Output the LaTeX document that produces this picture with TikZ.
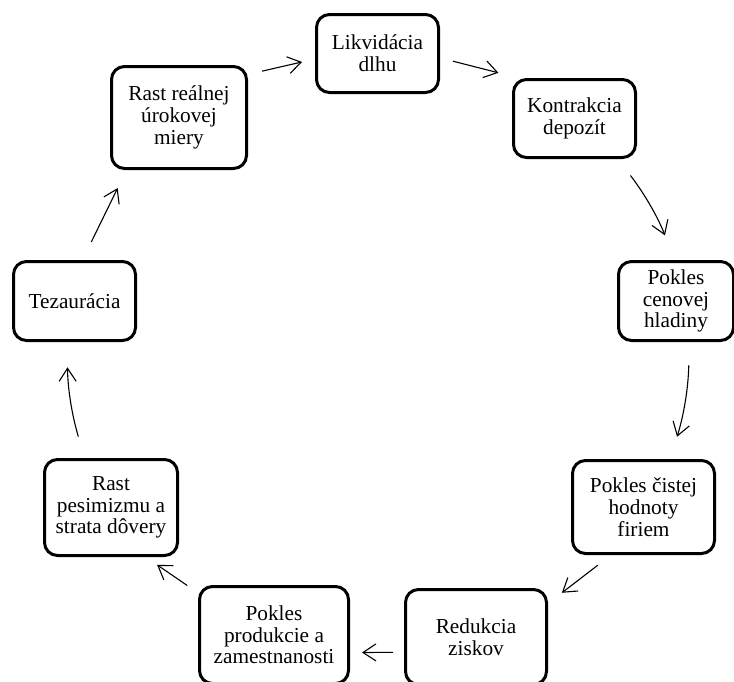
\documentclass[tikz,border=0pt]{standalone}
\usepackage{fontspec}
\setmainfont{Liberation Serif}
\usetikzlibrary{arrows.meta,positioning}

\tikzset{
  stage/.style={draw, line width=3pt, rounded corners=13pt, align=center,
    inner sep=2pt, font=\fontsize{21.3}{21.7}\selectfont},
  flow/.style={line width=1.1pt, -{Straight Barb[length=13pt,width=17pt]}}
}

\begin{document}
\begin{tikzpicture}[x=1pt, y=-1pt]
    \useasboundingbox (0,0) rectangle (734,681);

    % Stages of the cycle
    \node[stage, minimum width=122pt, minimum height=78pt] (debt) at (377.5,53.5) {Likvidácia\\dlhu};
    \node[stage, minimum width=122pt, minimum height=78pt] (deposits) at (574.5,118.5) {Kontrakcia\\depozít};
    \node[stage, minimum width=115pt, minimum height=79pt] (prices) at (676,301) {Pokles\\cenovej\\hladiny};
    \node[stage, minimum width=142pt, minimum height=93pt] (networth) at (643.5,507) {Pokles čistej\\hodnoty\\firiem};
    \node[stage, minimum width=141pt, minimum height=95pt] (profits) at (476,637) {Redukcia\\ziskov};
    \node[stage, minimum width=149pt, minimum height=97pt] (output) at (274,635) {Pokles\\produkcie a\\zamestnanosti};
    \node[stage, minimum width=133pt, minimum height=96pt] (pessimism) at (111,507.5) {Rast\\pesimizmu a\\strata dôvery};
    \node[stage, minimum width=122pt, minimum height=79pt] (hoarding) at (74.5,301) {Tezaurácia};
    \node[stage, minimum width=135pt, minimum height=102pt] (rate) at (179,117.5) {Rast reálnej\\úrokovej\\miery};

    % Arrows
    \draw[flow, shorten <=14.4pt, shorten >=13.3pt] (rate.32) -- (debt.185);
    \draw[flow, shorten <=13.4pt, shorten >=21pt] (debt.-4.8) -- (deposits.144.4);
    \draw[flow, shorten <=20.7pt, shorten >=26.4pt] (deposits.-43.1) to[bend left=8] (prices.92);
    \draw[flow, shorten <=23.3pt, shorten >=23.3pt] (prices.-72.5) to[bend left=8] (networth.61.9);
    \draw[flow, shorten <=16.7pt, shorten >=17.5pt] (networth.236.1) -- (profits.25.6);
    \draw[flow, shorten <=11pt, shorten >=12pt] (profits.192.5) -- (output.-13.3);
    \draw[flow, shorten <=13.1pt, shorten >=13.8pt] (output.151.8) -- (pessimism.-55.2);
    \draw[flow, shorten <=22.3pt, shorten >=25.3pt] (pessimism.118.4) to[bend left=8] (hoarding.260.2);
    \draw[flow, shorten <=20.1pt, shorten >=20.1pt] (hoarding.79.6) -- (rate.225.3);
\end{tikzpicture}
\end{document}
